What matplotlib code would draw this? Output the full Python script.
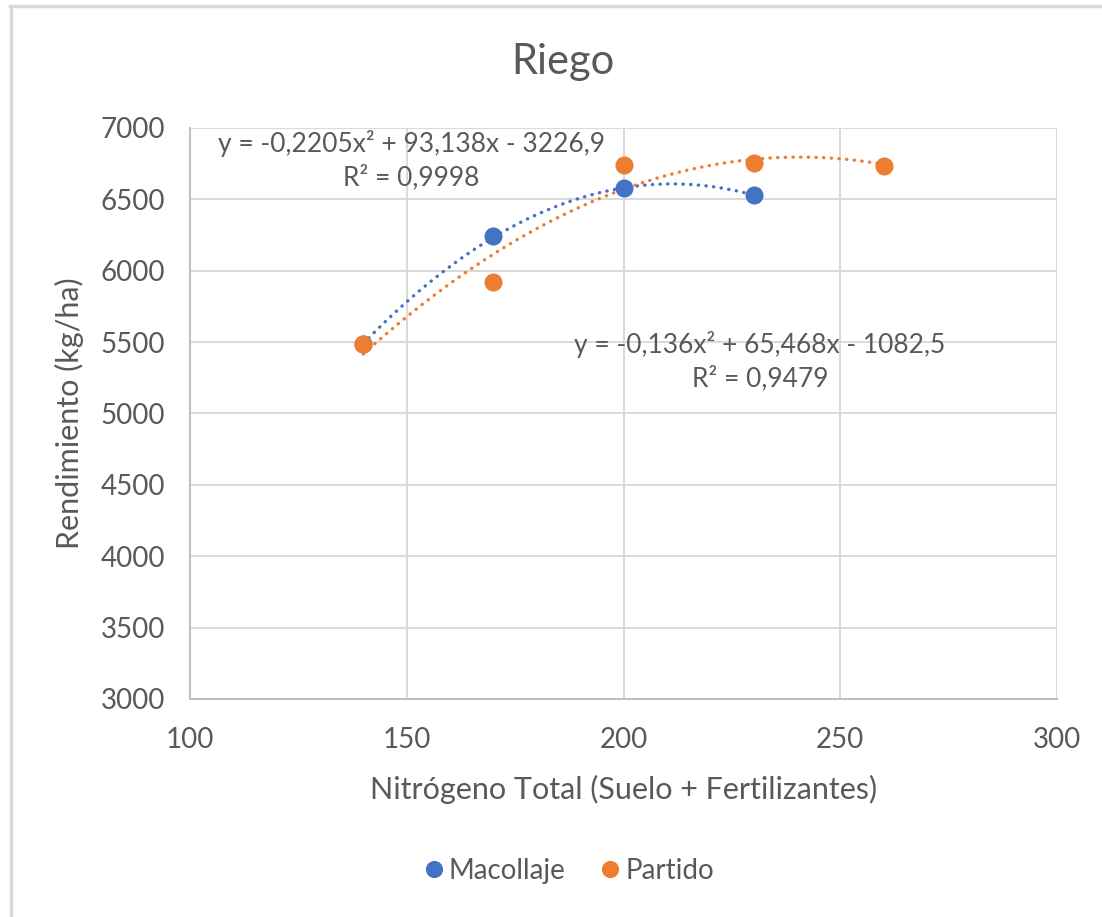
import numpy as np
import matplotlib
matplotlib.use("Agg")
import matplotlib.pyplot as plt
from matplotlib.lines import Line2D

plt.rcParams['font.family'] = ['Lato', 'DejaVu Sans']

# ---- data ----
mac_x = [140, 170, 200, 230]
mac_y = [5488, 6240, 6577, 6528]
par_x = [140, 170, 200, 230, 260]
par_y = [5488, 5918, 6744, 6758, 6732]
mac_coef = [-0.2205, 93.138, -3226.9]
par_coef = [-0.136, 65.468, -1082.5]
mac_eq = "y = -0,2205x² + 93,138x - 3226,9\nR² = 0,9998"
par_eq = "y = -0,136x² + 65,468x - 1082,5\nR² = 0,9479"
x_ticks = [100, 150, 200, 250, 300]
y_ticks = [3000, 3500, 4000, 4500, 5000, 5500, 6000, 6500, 7000]
series_names = ["Macollaje", "Partido"]
title = "Riego"
xlabel = "Nitrógeno Total (Suelo + Fertilizantes)"
ylabel = "Rendimiento (kg/ha)"

BLUE = "#4472C4"
ORANGE = "#ED7D31"
TXT = "#595959"
GRID = "#D9D9D9"

W, H = 1102, 917
fig = plt.figure(figsize=(W / 100, H / 100), dpi=100)
ax = fig.add_axes([190 / W, 1 - 699 / H, 867 / W, 571 / H])

# trendlines (polynomial, order 2)
for xs, coef, col in [(mac_x, mac_coef, BLUE), (par_x, par_coef, ORANGE)]:
    xx = np.linspace(min(xs), max(xs), 300)
    ax.plot(xx, np.polyval(coef, xx), color=col, lw=2.4,
            linestyle=(0, (0.1, 2.2)), dash_capstyle='round', zorder=3)

ax.plot(mac_x, mac_y, 'o', color=BLUE, ms=13, mec='none', zorder=4, label=series_names[0])
ax.plot(par_x, par_y, 'o', color=ORANGE, ms=13, mec='none', zorder=4, label=series_names[1])

ax.set_xlim(100, 300)
ax.set_ylim(3000, 7000)
ax.set_xticks(x_ticks)
ax.set_yticks(y_ticks)
ax.grid(True, color=GRID, lw=1.4, zorder=0)
ax.set_axisbelow(True)
for s in ['top', 'right']:
    ax.spines[s].set_visible(False)
for s in ['left', 'bottom']:
    ax.spines[s].set_color("#BFBFBF")
    ax.spines[s].set_linewidth(1.4)
ax.tick_params(length=0, colors=TXT, labelsize=20)
ax.tick_params(axis='y', pad=18)
ax.tick_params(axis='x', pad=20)

ax.set_xlabel(xlabel, fontsize=22, color=TXT, labelpad=16)
ax.set_ylabel(ylabel, fontsize=22, color=TXT, labelpad=12)

fig.text(563 / W, 1 - 62 / H, title, ha='center', va='center', fontsize=30, color=TXT)

# equation labels placed in data coordinates
x1 = 100 + (411 - 190) / 867 * 200
y1 = 7000 - (160 - 128) / 571 * 4000
ax.text(x1, y1, mac_eq, ha='center', va='center', fontsize=19, color=TXT,
        linespacing=1.4, zorder=5)
x2 = 100 + (760 - 190) / 867 * 200
y2 = 7000 - (361 - 128) / 571 * 4000
ax.text(x2, y2, par_eq, ha='center', va='center', fontsize=19, color=TXT,
        linespacing=1.4, zorder=5)

fig.legend(loc='center', bbox_to_anchor=(567 / W, 1 - 871 / H), ncol=2, frameon=False,
           fontsize=20, handletextpad=0.05, columnspacing=1.1, handlelength=1.0,
           labelcolor=TXT, markerscale=0.95)

# chart border (top and left visible)
fig.add_artist(Line2D([10 / W, 1], [1 - 6 / H, 1 - 6 / H], color="#D9D9D9", lw=2.5,
                      transform=fig.transFigure))
fig.add_artist(Line2D([11 / W, 11 / W], [0, 1 - 6 / H], color="#D9D9D9", lw=2.5,
                      transform=fig.transFigure))

fig.savefig("out.png", dpi=100, facecolor='white')
